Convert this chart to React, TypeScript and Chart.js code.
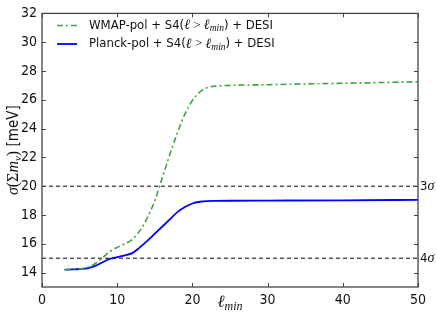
import React, { useEffect, useRef } from 'react';
import { Chart, registerables } from 'chart.js';
Chart.register(...registerables);

const lminWmap = [3, 4, 5, 6, 7, 8, 9, 10, 11, 12, 13, 14, 15, 16, 17, 18, 19, 20, 21, 22, 23, 25, 30, 40, 50];
const sigmaWmap = [14.2, 14.22, 14.25, 14.35, 14.6, 15.0, 15.45, 15.75, 16.0, 16.3, 16.9, 17.8, 19.0, 20.6, 22.2, 23.7, 25.0, 25.95, 26.55, 26.85, 26.95, 27.0, 27.05, 27.15, 27.25];
const lminPlanck = [3, 4, 5, 6, 7, 8, 9, 10, 11, 12, 13, 14, 15, 16, 17, 18, 19, 20, 21, 22, 23, 25, 30, 40, 50];
const sigmaPlanck = [14.2, 14.22, 14.25, 14.3, 14.45, 14.7, 14.95, 15.08, 15.2, 15.35, 15.75, 16.2, 16.7, 17.2, 17.7, 18.2, 18.55, 18.8, 18.92, 18.97, 18.98, 18.99, 19.0, 19.02, 19.05];
const xTicks = [0, 10, 20, 30, 40, 50];
const yTicks = [14, 16, 18, 20, 22, 24, 26, 28, 30, 32];
const sigmaLevels = [20, 15];
const sigmaNames = ['3', '4'];
const seriesNames = ['WMAP-pol', 'Planck-pol'];

const SANS = "'Liberation Sans Narrow', 'DejaVu Sans Condensed', 'Liberation Sans', sans-serif";
const SERIF = "'Liberation Serif', 'DejaVu Serif', serif";
const GREEN = '#3fa33f';
const BLUE = '#0000ff';
const AXIS = '#444';

type Seg = { t: string; f: string; dy?: number };

function drawRich(ctx: CanvasRenderingContext2D, segs: Seg[], x: number, y: number, align: 'left' | 'center') {
  const widths = segs.map((s) => {
    ctx.font = s.f;
    return ctx.measureText(s.t).width;
  });
  const total = widths.reduce((a, b) => a + b, 0);
  let cx = align === 'center' ? x - total / 2 : x;
  segs.forEach((s, i) => {
    ctx.font = s.f;
    ctx.fillText(s.t, cx, y + (s.dy || 0));
    cx += widths[i];
  });
}

const sans = (n: number) => `${n}px ${SANS}`;
const ital = (n: number) => `italic ${n}px ${SERIF}`;
const rom = (n: number) => `${n}px ${SERIF}`;

const legendSegs = (name: string): Seg[] => [
  { t: `${name} + S4(`, f: sans(13) },
  { t: 'ℓ', f: ital(14) },
  { t: ' > ', f: rom(13) },
  { t: 'ℓ', f: ital(14) },
  { t: 'min', f: ital(9.5), dy: 3 },
  { t: ') + DESI', f: sans(13) },
];

const overlay = {
  id: 'overlay',
  afterDraw(chart: any) {
    const ctx: CanvasRenderingContext2D = chart.ctx;
    const { left, right, top, bottom } = chart.chartArea;
    const xs = chart.scales.x;
    const ys = chart.scales.y;
    ctx.save();
    ctx.strokeStyle = AXIS;
    ctx.lineWidth = 1.3;
    ctx.setLineDash([]);
    ctx.strokeRect(left, top, right - left, bottom - top);
    ctx.lineWidth = 1;
    ctx.beginPath();
    xTicks.forEach((v) => {
      const px = Math.round(xs.getPixelForValue(v)) + 0.5;
      ctx.moveTo(px, bottom); ctx.lineTo(px, bottom - 4);
      ctx.moveTo(px, top); ctx.lineTo(px, top + 4);
    });
    yTicks.forEach((v) => {
      const py = Math.round(ys.getPixelForValue(v)) + 0.5;
      ctx.moveTo(left, py); ctx.lineTo(left + 4, py);
      ctx.moveTo(right, py); ctx.lineTo(right - 4, py);
    });
    ctx.stroke();

    ctx.fillStyle = '#111';
    ctx.textBaseline = 'middle';
    const lx = left + 15;
    const rows = [25.5, 44];
    const styles = [
      { c: GREEN, d: [6, 3, 2, 3], w: 1.6 },
      { c: BLUE, d: [], w: 1.8 },
    ];
    rows.forEach((ry, i) => {
      ctx.strokeStyle = styles[i].c;
      ctx.lineWidth = styles[i].w;
      ctx.setLineDash(styles[i].d);
      ctx.beginPath();
      ctx.moveTo(lx, ry);
      ctx.lineTo(lx + 20, ry);
      ctx.stroke();
      ctx.setLineDash([]);
      drawRich(ctx, legendSegs(seriesNames[i]), lx + 32, ry, 'left');
    });

    sigmaLevels.forEach((v, i) => {
      const py = ys.getPixelForValue(v);
      drawRich(ctx, [{ t: sigmaNames[i], f: sans(13) }, { t: 'σ', f: ital(14) }], right + 2, py, 'left');
    });

    drawRich(ctx, [{ t: 'ℓ', f: ital(17) }, { t: 'min', f: ital(12), dy: 4 }], (left + right) / 2, 303, 'center');

    ctx.translate(14, (top + bottom) / 2);
    ctx.rotate(-Math.PI / 2);
    drawRich(ctx, [
      { t: 'σ', f: ital(16) },
      { t: '(Σ', f: rom(16) },
      { t: 'm', f: ital(16) },
      { t: 'ν', f: ital(11), dy: 4 },
      { t: ')', f: rom(16) },
      { t: ' [meV]', f: sans(15) },
    ], 0, 0, 'center');
    ctx.restore();
  },
};

export default function App() {
  const ref = useRef<HTMLCanvasElement>(null);
  useEffect(() => {
    document.body.style.margin = '0';
    const pts = (xs: number[], ys: number[]) => xs.map((x, i) => ({ x, y: ys[i] }));
    const chart = new Chart(ref.current!, {
      type: 'line',
      data: {
        datasets: [
          {
            label: seriesNames[0],
            data: pts(lminWmap, sigmaWmap),
            borderColor: GREEN,
            borderWidth: 1.6,
            borderDash: [6, 3, 2, 3],
            pointRadius: 0,
            cubicInterpolationMode: 'monotone',
            fill: false,
          },
          {
            label: seriesNames[1],
            data: pts(lminPlanck, sigmaPlanck),
            borderColor: BLUE,
            borderWidth: 1.8,
            pointRadius: 0,
            cubicInterpolationMode: 'monotone',
            fill: false,
          },
          ...sigmaLevels.map((v) => ({
            label: `level ${v}`,
            data: [{ x: xTicks[0], y: v }, { x: xTicks[xTicks.length - 1], y: v }],
            borderColor: '#000',
            borderWidth: 1,
            borderDash: [4, 3],
            pointRadius: 0,
            fill: false,
          })),
        ],
      },
      options: {
        animation: false,
        responsive: false,
        layout: { padding: { top: 8, right: 18, left: 0, bottom: 0 } },
        plugins: { legend: { display: false }, tooltip: { enabled: false } },
        scales: {
          x: {
            type: 'linear',
            min: 0,
            max: 50,
            afterBuildTicks: (s: any) => { s.ticks = xTicks.map((v) => ({ value: v })); },
            afterFit: (s: any) => { s.height = 36; },
            ticks: { color: '#111', font: { family: SANS, size: 14 }, padding: 5, maxRotation: 0 },
            grid: { display: false, drawTicks: false },
            border: { display: false },
          },
          y: {
            type: 'linear',
            min: 13,
            max: 32,
            afterBuildTicks: (s: any) => { s.ticks = yTicks.map((v) => ({ value: v })); },
            afterFit: (s: any) => { s.width = 42; },
            ticks: { color: '#111', font: { family: SANS, size: 14 }, padding: 5 },
            grid: { display: false, drawTicks: false },
            border: { display: false },
          },
        },
      },
      plugins: [overlay],
    } as any);
    return () => chart.destroy();
  }, []);
  return (
    <div style={{ width: 436, height: 323 }}>
      <canvas ref={ref} width={436} height={323} />
    </div>
  );
}
